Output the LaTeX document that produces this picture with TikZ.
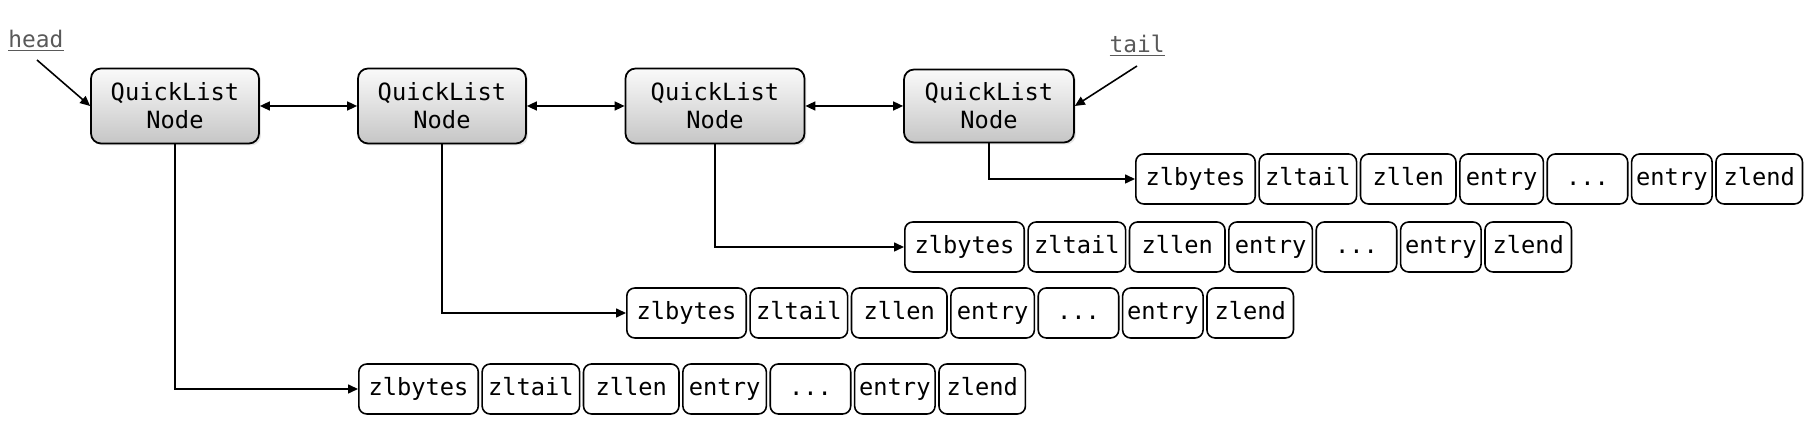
\documentclass[tikz,border=0pt]{standalone}
\usepackage{fontspec}
\setmonofont{DejaVu Sans Mono}
\usetikzlibrary{arrows.meta,positioning,shadows}
\tikzset{
  qlnode/.style={rectangle, rounded corners=0.2cm, draw=black, line width=1pt,
                 top color=gray!4, bottom color=gray!45, minimum width=3.36cm,
                 minimum height=1.5cm, inner sep=0pt, align=center,
                 drop shadow={opacity=0.2, shadow xshift=0.04cm, shadow yshift=-0.04cm},
                 font=\ttfamily\fontsize{13.5}{16}\selectfont},
  zlcell/.style={rectangle, rounded corners=0.16cm, draw=black, line width=0.9pt,
                 fill=white, minimum height=1cm, inner sep=0pt, anchor=west,
                 text height=0.9em, text depth=0.2em,
                 font=\ttfamily\fontsize{13.5}{16}\selectfont},
  link/.style={-{Triangle[length=0.2cm,width=0.18cm]}, line width=0.9pt},
  dlink/.style={{Triangle[length=0.2cm,width=0.18cm]}-{Triangle[length=0.2cm,width=0.18cm]}, line width=0.9pt},
  ptr/.style={font=\ttfamily\fontsize{13}{15}\selectfont, text=gray!70!black},
}
\begin{document}
\begin{tikzpicture}[x=0.02cm,y=-0.02cm]
  \useasboundingbox (0,0) rectangle (1810,421);
  % quicklist nodes
  \node[qlnode] (q1) at (175,106) {QuickList\\Node};
  \node[qlnode] (q2) at (442,106) {QuickList\\Node};
  \node[qlnode, minimum width=3.58cm] (q3) at (715,106) {QuickList\\Node};
  \node[qlnode, minimum width=3.4cm, minimum height=1.46cm] (q4) at (989,106) {QuickList\\Node};
  \draw[dlink] (q1.east) -- (q2.west);
  \draw[dlink] (q2.east) -- (q3.west);
  \draw[dlink] (q3.east) -- (q4.west);
  % head / tail
  \node[ptr] (head) at (36,41) {\underline{head}};
  \coordinate (headend) at (37,60);
  \draw[link] (headend) -- (q1.west);
  \node[ptr] (tail) at (1137,46) {\underline{tail}};
  \coordinate (tailend) at (1137,66);
  \draw[link] (tailend) -- (q4.east);
  % ziplists
  \foreach \r/\x/\y in {1/1135/179, 2/904/247, 3/626/313, 4/358/389} {
    \node[zlcell, minimum width=2.39cm] (r\r-c1) at (\x,\y) {zlbytes};
    \node[zlcell, minimum width=1.95cm, right=0.046cm of r\r-c1] (r\r-c2) {zltail};
    \node[zlcell, minimum width=1.91cm, right=0.046cm of r\r-c2] (r\r-c3) {zllen};
    \node[zlcell, minimum width=1.67cm, right=0.046cm of r\r-c3] (r\r-c4) {entry};
    \node[zlcell, minimum width=1.61cm, right=0.046cm of r\r-c4] (r\r-c5) {...};
    \node[zlcell, minimum width=1.61cm, right=0.046cm of r\r-c5] (r\r-c6) {entry};
    \node[zlcell, minimum width=1.73cm, right=0.046cm of r\r-c6] (r\r-c7) {zlend};
  }
  \draw[link] (q1.south) |- (r4-c1.west);
  \draw[link] (q2.south) |- (r3-c1.west);
  \draw[link] (q3.south) |- (r2-c1.west);
  \draw[link] (q4.south) |- (r1-c1.west);
\end{tikzpicture}
\end{document}
